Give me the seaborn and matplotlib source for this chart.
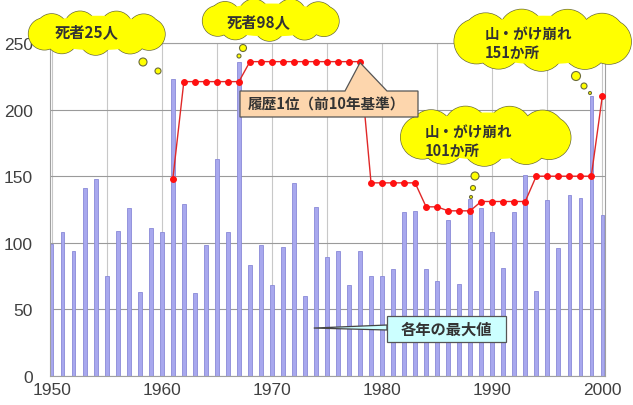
import numpy as np
import matplotlib
matplotlib.use("Agg")
import matplotlib.pyplot as plt
from matplotlib.patches import Circle, Ellipse, Polygon
from matplotlib.ticker import MultipleLocator
import seaborn as sns

# --- データ ---
years = list(range(1950, 2001))
max_values = [99, 108, 94, 141, 148, 75, 109, 126, 63, 111,
              108, 223, 129, 62, 98, 163, 108, 236, 83, 98,
              68, 97, 145, 60, 127, 89, 94, 68, 94, 75,
              75, 80, 123, 124, 80, 71, 117, 69, 133, 126,
              108, 81, 123, 151, 64, 132, 96, 136, 134, 210,
              121]
record_years = list(range(1961, 2001))
record_values = [148] + [221] * 6 + [236] * 11 + [145] * 5 + [127] * 2 \
    + [124] * 3 + [131] * 5 + [150] * 6 + [210]

# --- 設定 ---
W, H = 633, 406
JP = ["Noto Sans CJK JP", "DejaVu Sans"]
BAR_COLOR = "#a8a8ee"
BAR_EDGE = "#8a8ad8"
LINE_COLOR = "#e02828"
YELLOW = "#ffff00"
CLOUD_EDGE = "#6b6b3a"
TEXT_COLOR = "#333333"

sns.set_style("white")
plt.rcParams["font.family"] = ["Liberation Sans", "DejaVu Sans"]

fig = plt.figure(figsize=(W / 100, H / 100), dpi=100)
ax = fig.add_axes([49.5 / W, (H - 377) / H, (604.5 - 49.5) / W, (377 - 44) / H])

sns.barplot(x=years, y=max_values, native_scale=True, width=0.32,
            color=BAR_COLOR, edgecolor=BAR_EDGE, linewidth=0.6,
            saturation=1, ax=ax, zorder=2)
sns.lineplot(x=record_years, y=record_values, color=LINE_COLOR,
             marker="o", markersize=4.2, markeredgecolor="#ff1010",
             markerfacecolor="#ff1010", linewidth=1.0, ax=ax, zorder=3)

ax.set_xlim(1949.8, 2000.2)
ax.set_ylim(0, 250)
ax.set_xticks(range(1950, 2001, 10))
ax.xaxis.set_minor_locator(MultipleLocator(5))
ax.set_yticks(range(0, 251, 50))
ax.grid(which="both", axis="x", color="#c8c8c8", linewidth=0.8)
ax.grid(which="major", axis="y", color="#9a9a9a", linewidth=0.8)
ax.set_axisbelow(True)
ax.tick_params(axis="both", which="both", length=0, labelsize=12.5,
               labelcolor="#404040")
ax.tick_params(axis="y", pad=12)
ax.tick_params(axis="x", pad=4)
for s in ax.spines.values():
    s.set_color("#a0a0a0")
    s.set_linewidth(0.8)
ax.set_xlabel("")
ax.set_ylabel("")


def to_px(x, y):
    dx, dy = ax.transData.transform((x, y))
    return dx, H - dy


# 吹き出し用のオーバーレイ (ピクセル座標)
ov = fig.add_axes([0, 0, 1, 1], zorder=5)
ov.set_xlim(0, W)
ov.set_ylim(H, 0)
ov.axis("off")
ov.patch.set_alpha(0)


def draw_cloud(cx, cy, w, h, bubbles):
    # 重なった円で雲の形を作る
    r = h * 0.36
    ang = np.linspace(0, 2 * np.pi, 9, endpoint=False) + 0.2
    centers = [(cx + (w / 2 - r) * np.cos(a), cy + (h / 2 - r) * np.sin(a)) for a in ang]
    for x, y in centers:
        ov.add_patch(Circle((x, y), r, fc=YELLOW, ec=CLOUD_EDGE, lw=1.0, zorder=1))
    for x, y in centers:
        ov.add_patch(Circle((x, y), r, fc=YELLOW, ec="none", zorder=2))
    ov.add_patch(Ellipse((cx, cy), w - r, h - r * 0.6, fc=YELLOW, ec="none", zorder=2))
    for bx, by, br in bubbles:
        ov.add_patch(Circle((bx, by), br, fc=YELLOW, ec=CLOUD_EDGE, lw=0.8, zorder=3))


draw_cloud(97, 34, 138, 44, [(143, 63, 4), (158, 72, 3)])
ov.text(87, 32, "死者25人", ha="center", va="center", fontsize=11,
        color=TEXT_COLOR, fontweight="bold", family=JP, zorder=4)

draw_cloud(271, 21, 138, 42, [(243, 49, 3.5), (239, 57, 2)])
ov.text(259, 22, "死者98人", ha="center", va="center", fontsize=11,
        color=TEXT_COLOR, fontweight="bold", family=JP, zorder=4)

draw_cloud(543, 41, 179, 62, [(576, 77, 4.5), (584, 87, 3), (590, 94, 1.5)])
ov.text(485, 43, "山・がけ崩れ\n151か所", ha="left", va="center", fontsize=10.5,
        color=TEXT_COLOR, fontweight="bold", family=JP, linespacing=1.25, zorder=4)

draw_cloud(486, 137, 172, 60, [(475, 177, 4), (473, 189, 2.5), (471, 198, 1.5)])
ov.text(425, 141, "山・がけ崩れ\n101か所", ha="left", va="center", fontsize=10.5,
        color=TEXT_COLOR, fontweight="bold", family=JP, linespacing=1.25, zorder=4)

# 履歴1位 の吹き出し
tip_x, tip_y = to_px(record_years[17], record_values[17])
box = [(240, 92), (345, 92), (tip_x, tip_y + 1), (387, 92), (418, 92), (418, 118), (240, 118)]
ov.add_patch(Polygon(box, closed=True, fc="#fdd6ad", ec="#555555", lw=0.9, zorder=2))
ov.text(326, 105, "履歴1位（前10年基準）", ha="center", va="center", fontsize=10.5,
        color=TEXT_COLOR, fontweight="bold", family=JP, zorder=4)

# 各年の最大値 の吹き出し
px, py = to_px(1973.8, 36)
ov.add_patch(Polygon([(387, 326), (px, py), (387, 331)], closed=True,
                     fc="#ccffff", ec="#444444", lw=0.9, zorder=1))
ov.add_patch(Polygon([(387, 317), (506, 317), (506, 343), (387, 343)], closed=True,
                     fc="#ccffff", ec="#555555", lw=0.9, zorder=2))
ov.text(446, 330, "各年の最大値", ha="center", va="center", fontsize=11,
        color=TEXT_COLOR, fontweight="bold", family=JP, zorder=4)

fig.savefig("out.png", dpi=100)
print("Saved: out.png")
